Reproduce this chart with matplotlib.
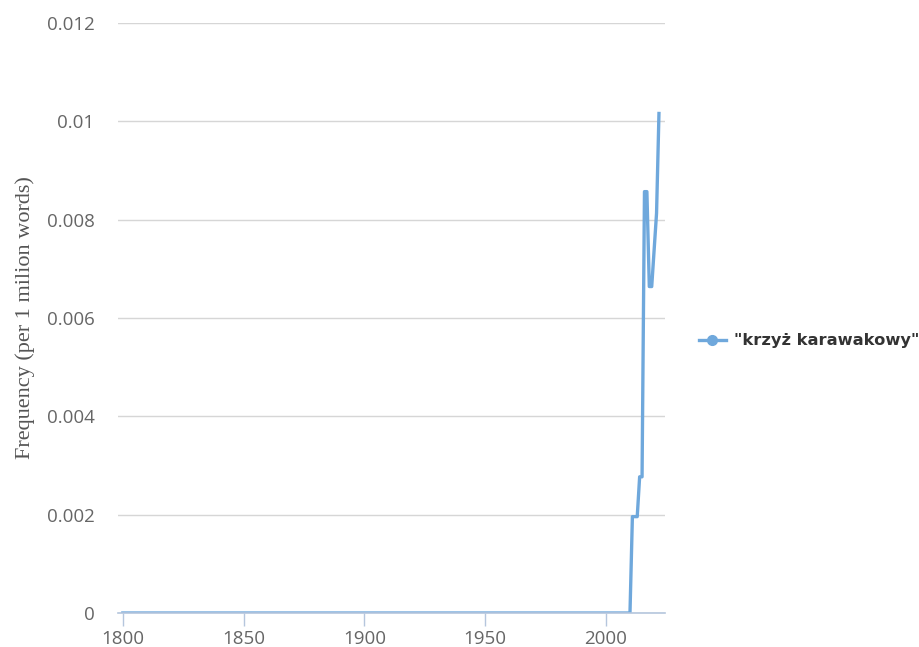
import matplotlib
matplotlib.use("Agg")
import matplotlib.pyplot as plt
from matplotlib.lines import Line2D

years = list(range(1800, 2023))
nonzero = {
    2011: 0.00196, 2012: 0.00196, 2013: 0.00196,
    2014: 0.00277, 2015: 0.00277,
    2016: 0.00857, 2017: 0.00857,
    2018: 0.00664, 2019: 0.00664,
    2020: 0.0074, 2021: 0.00813, 2022: 0.01016,
}
values = [nonzero.get(y, 0.0) for y in years]
series_name = '"krzyż karawakowy"'
y_ticks = [0, 0.002, 0.004, 0.006, 0.008, 0.01, 0.012]
y_tick_labels = ["0", "0.002", "0.004", "0.006", "0.008", "0.01", "0.012"]
x_ticks = [1800, 1850, 1900, 1950, 2000]

line_color = "#6fa8dc"
fig = plt.figure(figsize=(9.2, 6.47), dpi=100)
ax = fig.add_axes([118/920, 34/647, (665-118)/920, (613-23)/647])
ax.plot(years, values, color=line_color, lw=2.4, solid_joinstyle="round")
ax.set_xlim(1798, 2024.5)
ax.set_ylim(0, 0.012)
ax.set_yticks(y_ticks)
ax.set_yticklabels(y_tick_labels)
ax.set_xticks(x_ticks)
ax.grid(axis="y", color="#d6d6d6", lw=1)
ax.set_axisbelow(True)
for s in ["top", "right", "left"]:
    ax.spines[s].set_visible(False)
ax.spines["bottom"].set_color("#b5c6dd")
ax.spines["bottom"].set_linewidth(1.2)
ax.tick_params(axis="y", length=0, pad=17, labelsize=13.5, labelcolor="#666666")
ax.tick_params(axis="x", length=9, color="#b5c6dd", width=1, pad=3, labelsize=13.5, labelcolor="#666666")
for lab in ax.get_xticklabels() + ax.get_yticklabels():
    lab.set_family("Open Sans")
ax.set_ylabel("Frequency (per 1 milion words)", family="Liberation Serif", fontsize=16, color="#555555", labelpad=8)

handle = Line2D([], [], color=line_color, lw=2.4, marker="o", markersize=7)
leg = fig.legend([handle], [series_name], loc="center left", bbox_to_anchor=(684/920, 1-341/647),
                 frameon=False, handlelength=1.7, handletextpad=0.5,
                 prop={"family": "DejaVu Sans", "weight": "bold", "size": 11.7})
for t in leg.get_texts():
    t.set_color("#333333")

fig.savefig("out.png", dpi=100)
